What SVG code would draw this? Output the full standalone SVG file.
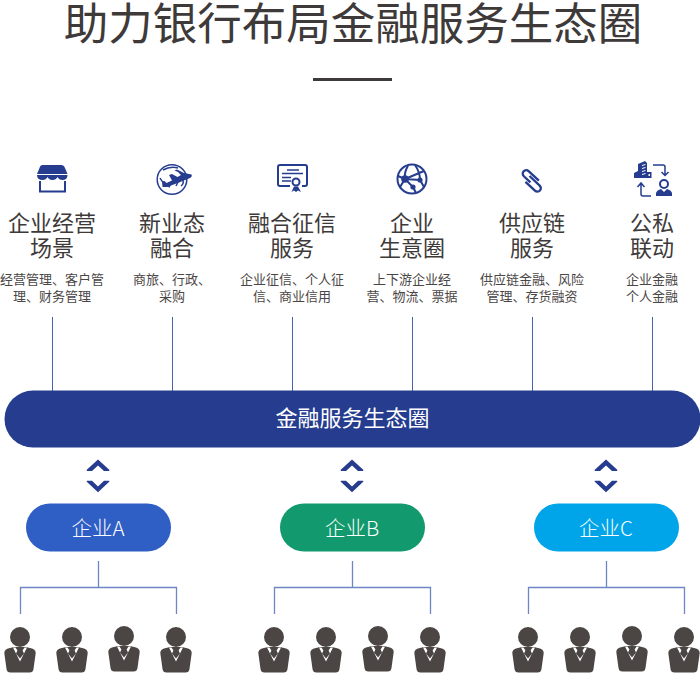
<svg xmlns="http://www.w3.org/2000/svg" xmlns:xlink="http://www.w3.org/1999/xlink" width="700" height="673" viewBox="0 0 700 673">
<style>
text{font-family:"Noto Sans CJK SC","Noto Sans",sans-serif;text-anchor:middle;font-weight:400}
.t{font-size:44.5px;fill:#3e3a39}
.h{font-size:22px;fill:#3e3a39}
.d{font-size:13px;fill:#4a4645}
.w{fill:#fff}
.l{font-weight:300}
.c{stroke:#4a61ad;stroke-width:1;fill:none}
.tr{stroke:#6f86c6;stroke-width:1.3;fill:none}
.i{fill:#253c8f}
.s{fill:none;stroke:#253c8f;stroke-width:1.5}
.b{fill:none;stroke:#253c8f;stroke-width:2}
.p{fill:#4b4644}
</style>
<defs>
<g id="person">
<circle cx="0" cy="0" r="10" class="p"/>
<path class="p" d="M-15.700 16Q-15.700 12.500-12 11.500L-6 10H6L12 11.500Q15.700 12.500 15.700 16L13.500 32Q13 35.500 9.500 35.500H-9.500Q-13 35.500-13.500 32Z"/>
<path fill="#fff" d="M-7 10.500H-4.500L-2.600 13.500-4 16.500 0 21.500 4 16.500 2.600 13.500 4.500 10.500H7L0 24.500Z"/>
</g>
<g id="chev">
<path class="i" d="M0 0 11.500 10.500 11 11.500H6L0 6 -6 11.500H-11L-11.500 10.500Z"/>
<path class="i" d="M-11.500 22-11 21.200H-6L0 27 6 21.200H11L11.500 22 0 32.800Z"/>
</g>
</defs>
<text class="t" x="353" y="40">助力银行布局金融服务生态圈</text>
<rect x="313" y="78" width="79" height="3" fill="#3e3a39"/>

<g id="connectors">
<path class="c" d="M52.500 317V391M172.500 317V391M292.500 317V391M412.500 317V391M532.500 317V391M652.500 317V391"/>
<path class="tr" d="M98.500 561V587.500M20.500 614V587.500H176.500V614"/>
<path class="tr" d="M352.500 561V587.500M274.500 614V587.500H430.500V614"/>
<path class="tr" d="M606.500 561V587.500M528.500 614V587.500H684.500V614"/>
</g>

<g id="node-scene">
<path class="i" d="M43 165H61Q64 165 65 168L67.500 174H37L39.500 168Q40 165 43 165Z"/>
<path class="i" d="M37 175H67.500Q67.500 180 62.500 180 59 180 57.500 177 56 180 52.500 180 49 180 47.500 177 46 180 42.500 180 37 180 37 175Z"/>
<path class="b" d="M40 181V191.500H65V181"/>
<text class="h" x="52" y="231">企业经营</text><text class="h" x="52" y="256">场景</text>
<text class="d" x="52" y="284">经营管理、客户管</text><text class="d" x="52" y="301">理、财务管理</text>
</g>
<g id="node-newbiz">
<circle class="s" cx="172" cy="179.500" r="14.800"/>
<path class="s" d="M163 170Q170 166 178 168M160 178Q163 184 170 187M169 187 171 183M181 186Q184 184 183 180M176 186 178 182"/>
<path class="i" d="M191.500 174.500Q192.500 176.500 190 178L179 182.500 167 187H162.500L162 181.500 164.500 181 166.500 183 172 180.500 169 175 172 174 177.500 177 181 175 178 172 174.500 170.500 177 169.500 184 173Z"/>
<text class="h" x="172" y="231">新业态</text><text class="h" x="172" y="256">融合</text>
<text class="d" x="172" y="284">商旅、行政、</text><text class="d" x="172" y="301">采购</text>
</g>
<g id="node-credit">
<path class="b" d="M290 186H280Q278 186 278 184V167Q278 165 280 165H305Q307 165 307 167V184Q307 186 305 186H302"/>
<path class="s" d="M287 170H299M282 173.500H303M282 177.500H291M282 181H291"/>
<circle class="b" cx="296" cy="182" r="3.500"/>
<path class="i" d="M291.500 192 294 186.500H298L301 192 298 190.500 296 192 294 190.500Z"/>
<text class="h" x="292" y="231">融合征信</text><text class="h" x="292" y="256">服务</text>
<text class="d" x="292" y="284">企业征信、个人征</text><text class="d" x="292" y="301">信、商业信用</text>
</g>
<g id="node-circle">
<circle class="b" cx="412" cy="179" r="14.500"/>
<path class="b" d="M405 179Q404 172 408 166M405 179 424 171M405 179 420 180 424 187M405 179 413 187 416 193M415 165Q420 172 420 180M398 176 405 179M400 187 405 179"/>
<circle class="i" cx="405" cy="179" r="3.800"/><circle class="i" cx="420" cy="180" r="2.600"/><circle class="i" cx="413" cy="187" r="2.600"/>
<text class="h" x="412" y="231">企业</text><text class="h" x="412" y="256">生意圈</text>
<text class="d" x="412" y="284">上下游企业经</text><text class="d" x="412" y="301">营、物流、票据</text>
</g>
<g id="node-chain">
<path transform="translate(532.800 179.800) rotate(43)" fill="none" stroke="#253c8f" stroke-width="2.300" d="M5-3.500H-9A3.500 3.500 0 0 0-9 3.500H0M-5 -0.500H9A3.500 3.500 0 0 1 9 6.500H-4"/>
<text class="h" x="532" y="231">供应链</text><text class="h" x="532" y="256">服务</text>
<text class="d" x="532" y="284">供应链金融、风险</text><text class="d" x="532" y="301">管理、存货融资</text>
</g>
<g id="node-link">
<path class="i" d="M638 178V164L645 161 647 163V178Z"/>
<path fill="#fff" d="M642 165 645.500 164V165L642 166ZM642 168 645.500 167V168L642 169ZM642 171 645.500 170V171L642 172ZM642 174 645.500 173V174L642 175Z"/>
<path class="i" d="M634 178V173L638 171V178ZM647 172H651.500V178H647Z"/>
<path fill="#fff" d="M648.500 174H650V176H648.500Z"/>
<path class="s" d="M653 165H663Q665 165 665 167V175M661.500 172 665 175.500 668.500 172"/>
<path class="s" d="M651 196H643Q641 196 641 194V183.500M637.500 187 641 183 644.500 187"/>
<circle cx="664" cy="184" r="4" fill="none" stroke="#253c8f" stroke-width="2"/>
<path class="i" d="M656 196V193Q657 190 661 189L664 192 667 189Q671 190 672 193V196Z"/>
<text class="h" x="652" y="231">公私</text><text class="h" x="652" y="256">联动</text>
<text class="d" x="652" y="284">企业金融</text><text class="d" x="652" y="301">个人金融</text>
</g>

<g id="node-ecosystem">
<rect x="4.500" y="390.500" width="696" height="57" rx="28.500" fill="#253c8f"/>
<text class="w" x="352.500" y="426" font-size="22">金融服务生态圈</text>
</g>
<use xlink:href="#chev" href="#chev" x="98" y="459.500"/>
<use xlink:href="#chev" href="#chev" x="352" y="459.500"/>
<use xlink:href="#chev" href="#chev" x="606" y="459.500"/>

<g id="node-a">
<rect x="26" y="503.500" width="145" height="48" rx="24" fill="#2f5ec4"/>
<text class="w l" x="98" y="535.500" font-size="20.500">企业A</text>
</g>
<g id="node-b">
<rect x="280" y="503.500" width="145" height="48" rx="24" fill="#129a6e"/>
<text class="w l" x="352" y="535.500" font-size="20.500">企业B</text>
</g>
<g id="node-c">
<rect x="534" y="503.500" width="145" height="48" rx="24" fill="#00a5e9"/>
<text class="w l" x="606" y="535.500" font-size="20.500">企业C</text>
</g>

<g id="people-a">
<use xlink:href="#person" href="#person" x="20" y="637"/>
<use xlink:href="#person" href="#person" x="72" y="637"/>
<use xlink:href="#person" href="#person" x="124" y="636"/>
<use xlink:href="#person" href="#person" x="176" y="637"/>
</g>
<g id="people-b">
<use xlink:href="#person" href="#person" x="274" y="637"/>
<use xlink:href="#person" href="#person" x="326" y="637"/>
<use xlink:href="#person" href="#person" x="378" y="636"/>
<use xlink:href="#person" href="#person" x="430" y="637"/>
</g>
<g id="people-c">
<use xlink:href="#person" href="#person" x="528" y="637"/>
<use xlink:href="#person" href="#person" x="580" y="637"/>
<use xlink:href="#person" href="#person" x="632" y="636"/>
<use xlink:href="#person" href="#person" x="684" y="637"/>
</g>
</svg>
